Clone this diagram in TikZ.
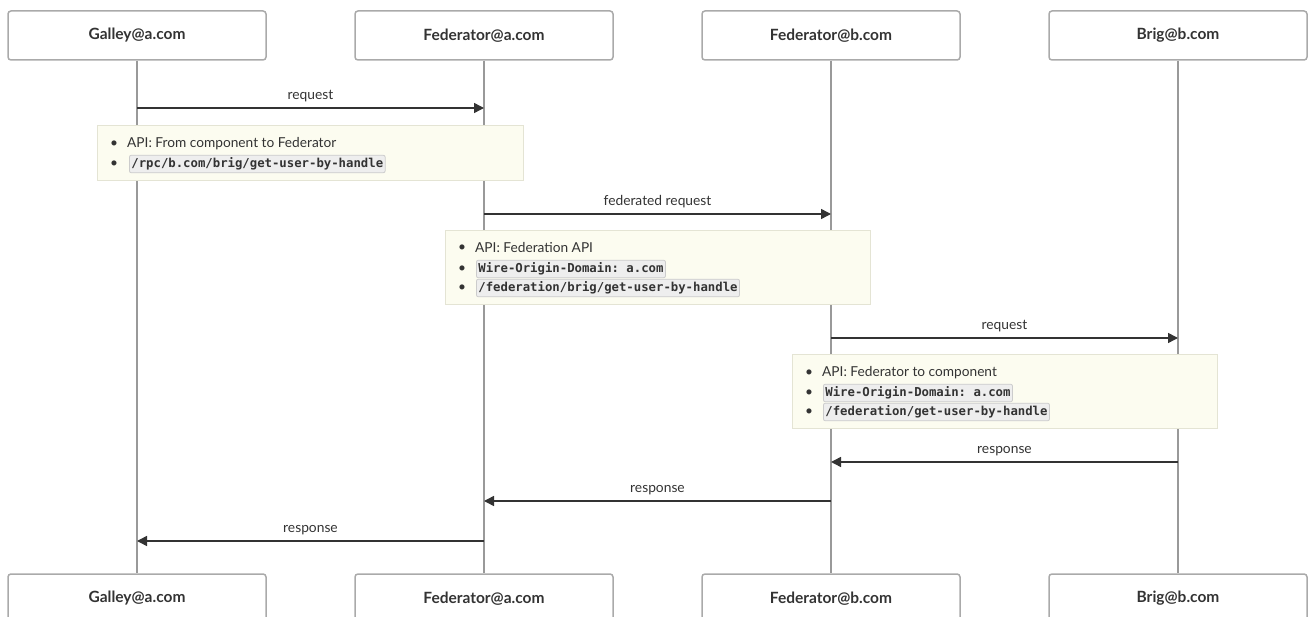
\documentclass[tikz,border=0pt]{standalone}
\usepackage{fontspec}
\setmainfont{Lato}
\setmonofont{DejaVu Sans Mono}
\usetikzlibrary{arrows.meta}
\definecolor{ink}{HTML}{333333}
\definecolor{boxgray}{HTML}{AAAAAA}
\definecolor{linegray}{HTML}{999999}
\definecolor{notebg}{HTML}{FCFCF0}
\definecolor{notebd}{HTML}{E4E4D4}
\definecolor{codebg}{HTML}{EEEEEE}
\definecolor{codebd}{HTML}{CCCCCC}

\begin{document}
\begin{tikzpicture}[x=1pt,y=-1pt,
	actor/.style={draw=boxgray,line width=1.5pt,rounded corners=3pt,minimum width=258pt,minimum height=49pt,font=\bfseries\fontsize{15.5}{17}\selectfont,text=ink},
	life/.style={draw=linegray,line width=1.5pt},
	msg/.style={draw=ink,line width=1.5pt,-{Triangle[length=10pt,width=10pt]}},
	lbl/.style={font=\fontsize{13.8}{16}\selectfont,text=ink,above=2pt},
	note/.style={draw=notebd,fill=notebg,line width=1pt},
	item/.style={anchor=west,inner sep=0pt,font=\fontsize{13.7}{16}\selectfont,text=ink},
	code/.style={anchor=west,draw=codebd,fill=codebg,rounded corners=2pt,inner xsep=2pt,inner ysep=2.5pt,line width=0.8pt,font=\ttfamily\bfseries\fontsize{12.3}{14}\selectfont,text=ink}]
	\clip (0,0) rectangle (1310,617);
	% participants, top and bottom
	\node[actor] (ga) at (137,35.5) {Galley@a.com};
	\node[actor] (fa) at (484,35.5) {Federator@a.com};
	\node[actor] (fb) at (831,35.5) {Federator@b.com};
	\node[actor] (bb) at (1178,35.5) {Brig@b.com};
	\node[actor] (gaz) at (137,598.5) {Galley@a.com};
	\node[actor] (faz) at (484,598.5) {Federator@a.com};
	\node[actor] (fbz) at (831,598.5) {Federator@b.com};
	\node[actor] (bbz) at (1178,598.5) {Brig@b.com};
	\foreach \p in {ga,fa,fb,bb}
		\draw[life] (\p) -- (\p z);
	% points on the lifelines
	\coordinate (ga1) at (ga |- 0,108);
	\coordinate (fa1) at (fa |- 0,108);
	\coordinate (fa2) at (fa |- 0,214);
	\coordinate (fb2) at (fb |- 0,214);
	\coordinate (fb3) at (fb |- 0,338);
	\coordinate (bb3) at (bb |- 0,338);
	\coordinate (bb4) at (bb |- 0,462);
	\coordinate (fb4) at (fb |- 0,462);
	\coordinate (fb5) at (fb |- 0,501);
	\coordinate (fa5) at (fa |- 0,501);
	\coordinate (fa6) at (fa |- 0,541);
	\coordinate (ga6) at (ga |- 0,541);
	% messages
	\draw[msg] (ga1) -- node[lbl]{request} (fa1);
	\draw[msg] (fa2) -- node[lbl]{federated request} (fb2);
	\draw[msg] (fb3) -- node[lbl]{request} (bb3);
	\draw[msg] (bb4) -- node[lbl]{response} (fb4);
	\draw[msg] (fb5) -- node[lbl]{response} (fa5);
	\draw[msg] (fa6) -- node[lbl]{response} (ga6);
	% notes
	\draw[note] (97,126) rectangle (523,181);
	\node[item] (n1b) at (110,144) {\textbullet};
	\node[item] (n1a) at (127,144) {API: From component to Federator};
	\node[item] (n2b) at (110,164) {\textbullet};
	\node[code] (n2a) at (129,164) {/rpc/b.com/brig/get-user-by-handle};
	\draw[note] (445,231) rectangle (870,305);
	\node[item] (n3b) at (458,248) {\textbullet};
	\node[item] (n3a) at (475,248) {API: Federation API};
	\node[item] (n4b) at (458,269) {\textbullet};
	\node[code] (n4a) at (476,269) {Wire-Origin-Domain: a.com};
	\node[item] (n5b) at (458,288) {\textbullet};
	\node[code] (n5a) at (476,288) {/federation/brig/get-user-by-handle};
	\draw[note] (792,355) rectangle (1217,429);
	\node[item] (n6b) at (805,373) {\textbullet};
	\node[item] (n6a) at (822,373) {API: Federator to component};
	\node[item] (n7b) at (805,393) {\textbullet};
	\node[code] (n7a) at (823,393) {Wire-Origin-Domain: a.com};
	\node[item] (n8b) at (805,412) {\textbullet};
	\node[code] (n8a) at (823,412) {/federation/get-user-by-handle};
\end{tikzpicture}
\end{document}
